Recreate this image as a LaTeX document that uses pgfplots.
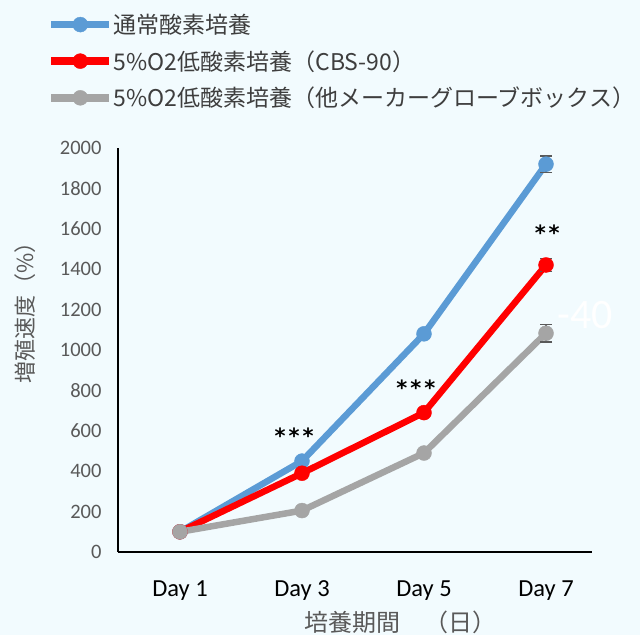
\documentclass[border=0pt]{standalone}
\usepackage{pgfplots}
\pgfplotsset{compat=1.18}
\usepackage{fontspec}
\setmainfont{Carlito}
\newfontfamily\jp{Noto Sans CJK JP}
\newfontfamily\dv{DejaVu Sans}
\definecolor{bg}{HTML}{F2FBFE}
\definecolor{cblue}{HTML}{5B9BD5}
\definecolor{cred}{HTML}{FF0000}
\definecolor{cgray}{HTML}{A5A5A5}
\definecolor{tickgray}{HTML}{595959}
\definecolor{errgray}{HTML}{595959}
\begin{document}
\begin{tikzpicture}[x=1pt,y=1pt]
\fill[bg] (0,0) rectangle (640,635);
\useasboundingbox (0,0) rectangle (640,635);
\begin{axis}[
  at={(118pt,83pt)}, anchor=south west,
  scale only axis, width=474pt, height=404pt,
  xmin=-0.508, xmax=3.377, ymin=0, ymax=2000,
  xtick={0,1,2,3}, xticklabels={Day 1,Day 3,Day 5,Day 7},
  ytick={0,200,...,2000},
  axis x line*=bottom, axis y line*=left,
  axis line style={black, line width=1.3pt},
  major tick length=0pt,
  clip=false,
  /pgf/number format/assume math mode=true,
  /pgf/number format/1000 sep={},
  x tick label style={font=\fontsize{24.5}{24.5}\selectfont, black, yshift=-25pt},
  y tick label style={font=\fontsize{20.5}{20.5}\selectfont, tickgray, xshift=-13pt},
  xlabel={\jp 培養期間　（日）},
  xlabel style={font=\fontsize{24}{24}\selectfont, tickgray, at={(axis description cs:0.595,-0.173)}, anchor=center},
  ylabel={\jp 増殖速度（\%）},
  ylabel style={font=\fontsize{22}{22}\selectfont, tickgray, at={(axis description cs:-0.196,0.606)}, anchor=center},
  legend style={at={(axis description cs:-0.149,1.333)}, anchor=north west, draw=none, fill=none,
    font=\jp\fontsize{23}{25}\selectfont, text=tickgray!70!black, row sep=14.5pt, inner sep=0pt,
    nodes={inner sep=0.5pt}},
  legend cell align=left,
  legend image code/.code={\draw[#1, line width=7.5pt, mark repeat=2, mark phase=2, mark size=7.5pt, mark options={line width=0.4pt}] plot coordinates {(0pt,0pt) (29pt,0pt) (58pt,0pt)};},
  every axis plot/.append style={line width=6.5pt, mark=*, mark size=7.5pt},
  error bars/y dir=both, error bars/y explicit,
  error bars/error bar style={errgray, line width=1.3pt},
  error bars/error mark options={errgray, rotate=90, mark size=6pt, line width=1.3pt},
]
\addplot[cblue, mark options={cblue, line width=0.4pt}] coordinates {(0,100) +- (0,5) (1,450) +- (0,15) (2,1080) +- (0,20) (3,1920) +- (0,41)};
\addlegendentry{通常酸素培養}
\addplot[cred, mark options={cred, line width=0.4pt}] coordinates {(0,100) +- (0,5) (1,390) +- (0,12) (2,690) +- (0,15) (3,1421) +- (0,33)};
\addlegendentry{5\%O2低酸素培養（CBS-90）}
\addplot[cgray, mark options={cgray, line width=0.4pt}] coordinates {(0,100) +- (0,5) (1,205) +- (0,10) (2,490) +- (0,15) (3,1083) +- (0,43)};
\addlegendentry{5\%O2低酸素培養（他メーカーグローブボックス）}
\node[font=\dv\bfseries\fontsize{21}{21}\selectfont, inner sep=0pt] at (axis cs:0.935,575) {*\kern3pt*\kern3pt*};
\node[font=\dv\bfseries\fontsize{21}{21}\selectfont, inner sep=0pt] at (axis cs:1.934,813) {*\kern3pt*\kern3pt*};
\node[font=\dv\bfseries\fontsize{21}{21}\selectfont, inner sep=0pt] at (axis cs:3.01,1580) {*\kern3pt*};
\node[white, font=\fontsize{42}{42}\selectfont] at (axis cs:3.32,1173) {-40};
\end{axis}
\end{tikzpicture}
\end{document}
